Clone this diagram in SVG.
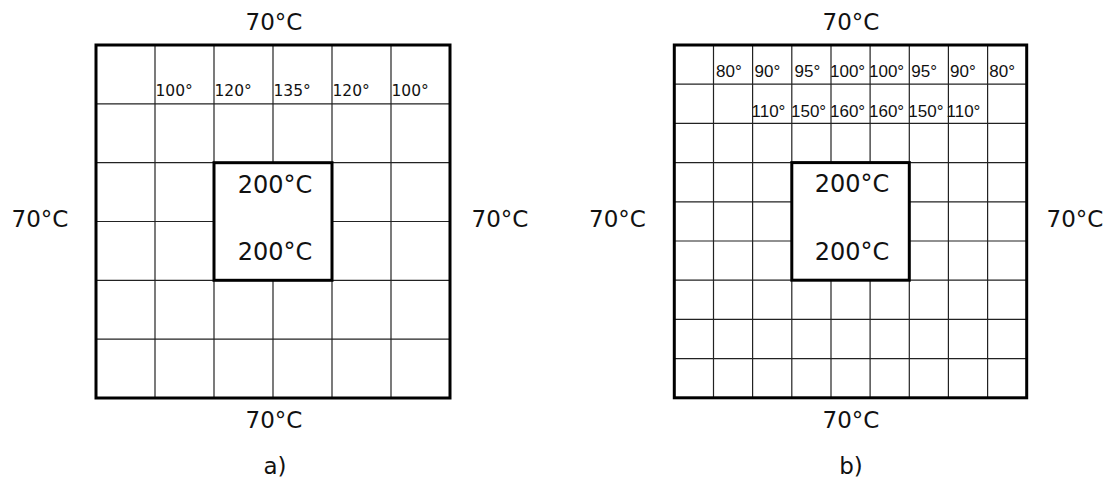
<svg xmlns="http://www.w3.org/2000/svg" width="1109" height="491" viewBox="0 0 1109 491">
<style>
.bg{fill:#ffffff}
.grid{stroke:#222;stroke-width:1.2;fill:none}
.thick{stroke:#000;stroke-width:3;fill:none}
.box{stroke:#000;stroke-width:3;fill:#ffffff}
.lbl{font-family:"DejaVu Sans",Verdana,sans-serif;font-size:23px;fill:#111}
.big{font-family:"DejaVu Sans",Verdana,sans-serif;font-size:24px;fill:#111;text-anchor:middle}
.cellA{font-family:"DejaVu Sans",Verdana,sans-serif;font-size:15.5px;fill:#111}
.cellB{font-family:"Liberation Sans",Arial,sans-serif;font-size:17px;fill:#111}
.mid{text-anchor:middle}
</style>
<rect class="bg" x="0" y="0" width="1109" height="491"/>

<g id="panel-a">
  <g class="grid">
    <line x1="155" y1="45" x2="155" y2="398"/>
    <line x1="214" y1="45" x2="214" y2="398"/>
    <line x1="273" y1="45" x2="273" y2="398"/>
    <line x1="332" y1="45" x2="332" y2="398"/>
    <line x1="391" y1="45" x2="391" y2="398"/>
    <line x1="96" y1="103.8" x2="450" y2="103.8"/>
    <line x1="96" y1="162.7" x2="450" y2="162.7"/>
    <line x1="96" y1="221.5" x2="450" y2="221.5"/>
    <line x1="96" y1="280.3" x2="450" y2="280.3"/>
    <line x1="96" y1="339.2" x2="450" y2="339.2"/>
  </g>
  <rect class="box" x="214" y="162.7" width="118" height="117.6"/>
  <rect class="thick" x="96" y="45" width="354" height="353"/>
  <g class="cellA">
    <text x="155.5" y="96">100°</text>
    <text x="214.5" y="96">120°</text>
    <text x="273.5" y="96">135°</text>
    <text x="332.5" y="96">120°</text>
    <text x="391.5" y="96">100°</text>
  </g>
  <text class="big" x="275" y="192.5">200°C</text>
  <text class="big" x="275" y="260">200°C</text>
  <text class="lbl mid" x="274" y="30">70°C</text>
  <text class="lbl mid" x="274" y="428">70°C</text>
  <text class="lbl mid" x="40" y="227">70°C</text>
  <text class="lbl mid" x="500" y="227">70°C</text>
  <text class="lbl mid" x="275" y="474">a)</text>
</g>

<g id="panel-b">
  <g class="grid">
    <line x1="713.5" y1="45" x2="713.5" y2="397.8"/>
    <line x1="752.6" y1="45" x2="752.6" y2="397.8"/>
    <line x1="791.8" y1="45" x2="791.8" y2="397.8"/>
    <line x1="831" y1="45" x2="831" y2="397.8"/>
    <line x1="870.1" y1="45" x2="870.1" y2="397.8"/>
    <line x1="909.3" y1="45" x2="909.3" y2="397.8"/>
    <line x1="948.4" y1="45" x2="948.4" y2="397.8"/>
    <line x1="987.6" y1="45" x2="987.6" y2="397.8"/>
    <line x1="674.3" y1="84.2" x2="1026.7" y2="84.2"/>
    <line x1="674.3" y1="123.4" x2="1026.7" y2="123.4"/>
    <line x1="674.3" y1="162.6" x2="1026.7" y2="162.6"/>
    <line x1="674.3" y1="201.8" x2="1026.7" y2="201.8"/>
    <line x1="674.3" y1="241" x2="1026.7" y2="241"/>
    <line x1="674.3" y1="280.2" x2="1026.7" y2="280.2"/>
    <line x1="674.3" y1="319.4" x2="1026.7" y2="319.4"/>
    <line x1="674.3" y1="358.6" x2="1026.7" y2="358.6"/>
  </g>
  <rect class="box" x="791.8" y="162.6" width="117.5" height="117.6"/>
  <rect class="thick" x="674.3" y="45" width="352.4" height="352.8"/>
  <g class="cellB">
    <text x="716" y="77">80°</text>
    <text x="754.5" y="77">90°</text>
    <text x="794.5" y="77">95°</text>
    <text x="830" y="77">100°</text>
    <text x="869" y="77">100°</text>
    <text x="911.3" y="77">95°</text>
    <text x="950" y="77">90°</text>
    <text x="989.3" y="77">80°</text>
    <text x="751.5" y="117">110°</text>
    <text x="791" y="117">150°</text>
    <text x="830" y="117">160°</text>
    <text x="869" y="117">160°</text>
    <text x="908.3" y="117">150°</text>
    <text x="946.5" y="117">110°</text>
  </g>
  <text class="big" x="852" y="192">200°C</text>
  <text class="big" x="852" y="260">200°C</text>
  <text class="lbl mid" x="851" y="30">70°C</text>
  <text class="lbl mid" x="851" y="428">70°C</text>
  <text class="lbl mid" x="617.5" y="227">70°C</text>
  <text class="lbl mid" x="1075" y="227">70°C</text>
  <text class="lbl mid" x="851" y="474">b)</text>
</g>
</svg>
